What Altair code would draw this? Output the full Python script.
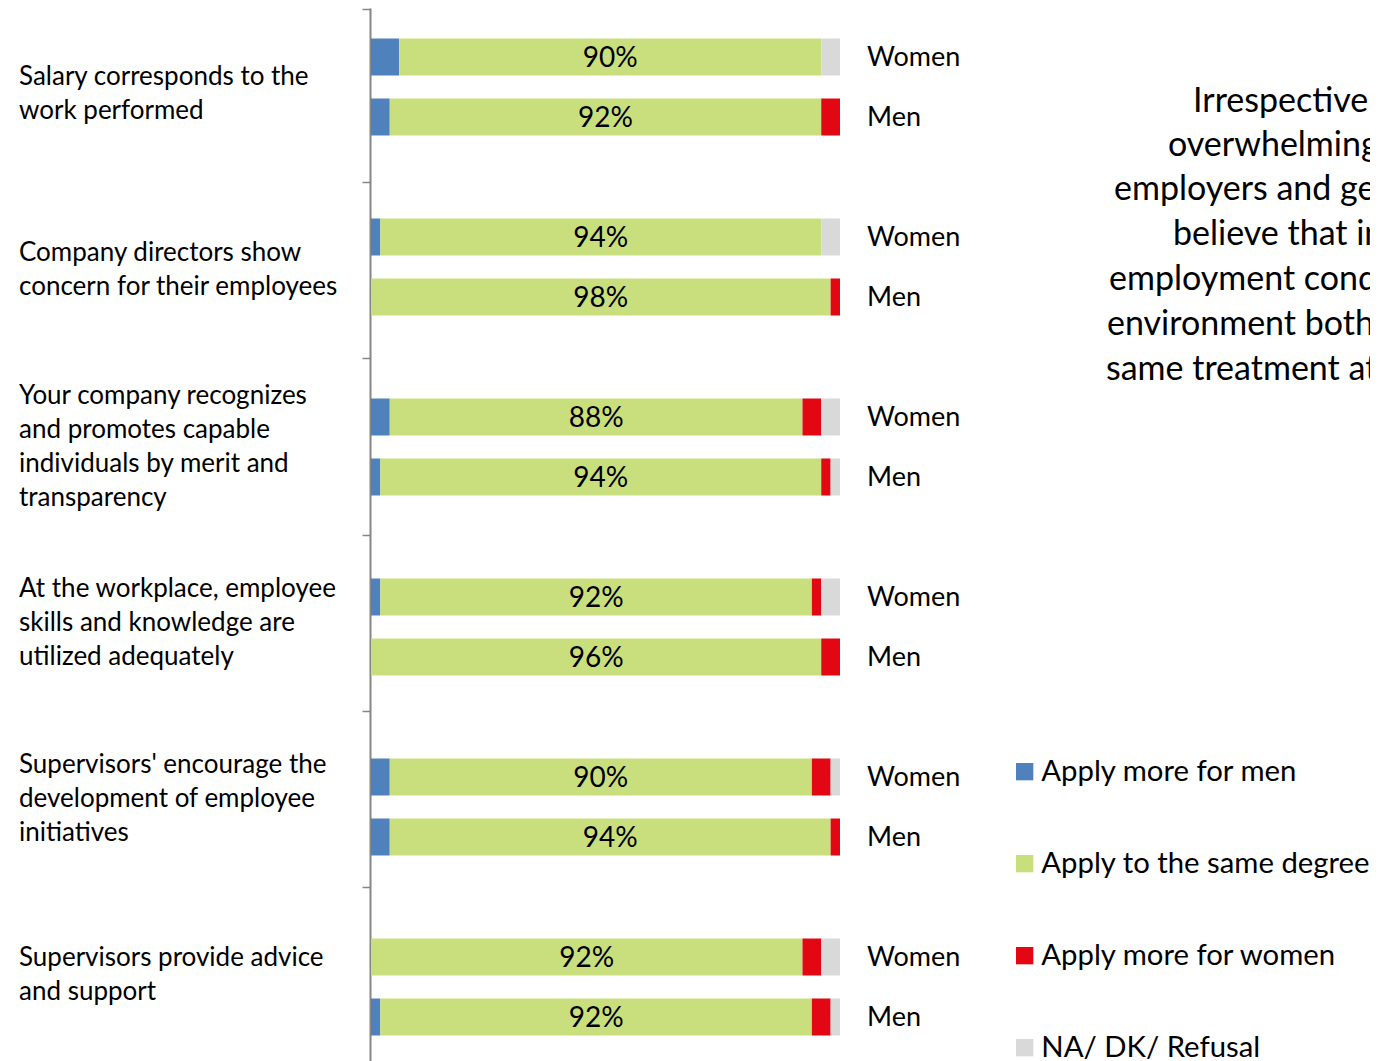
import altair as alt
import pandas as pd

# ---------------- data ----------------
statements = [
    "Salary corresponds to the\nwork performed",
    "Company directors show\nconcern for their employees",
    "Your company recognizes\nand promotes capable\nindividuals by merit and\ntransparency",
    "At the workplace, employee\nskills and knowledge are\nutilized adequately",
    "Supervisors' encourage the\ndevelopment of employee\ninitiatives",
    "Supervisors provide advice\nand support",
]
genders = ["Women", "Men"]
categories = ["Apply more for men", "Apply to the same degree",
              "Apply more for women", "NA/ DK/ Refusal"]
colors = ["#4f81bd", "#c9df7e", "#e30613", "#d9d9d9"]

# [Women, Men] per statement (percent)
more_men = [[6, 4], [2, 0], [4, 2], [2, 0], [4, 4], [0, 2]]
same_degree = [[90, 92], [94, 98], [88, 94], [92, 96], [90, 94], [92, 92]]
more_women = [[0, 4], [0, 2], [4, 2], [2, 4], [4, 2], [4, 4]]
na_dk = [[4, 0], [4, 0], [4, 2], [4, 0], [2, 0], [4, 2]]

note_lines = [
    "Irrespective of gender, the",
    "overwhelming majority of",
    "employers and general employees",
    "believe that in terms of",
    "employment conditions and work",
    "environment both genders receive the",
    "same treatment at work.",
]

# ---------------- layout ----------------
W, H = 1362, 1053
SLOT_PX = 60.0
PX_PER_PCT = 4.69
LINE_PX = 34
y_lo = -49 / SLOT_PX
y_hi = y_lo + H / SLOT_PX
x_lo = -363 / PX_PER_PCT
x_hi = x_lo + W / PX_PER_PCT
half = 37 / SLOT_PX / 2
axis_top = y_lo - 2 / SLOT_PX
tick_step = 176.25 / SLOT_PX

series = [more_men, same_degree, more_women, na_dk]
rows, labels, glabels = [], [], []
for g, st in enumerate(statements):
    for k, gen in enumerate(genders):
        slot = 3 * g + k
        start = 0
        for c, cat in enumerate(categories):
            v = series[c][g][k]
            if v > 0:
                rows.append(dict(slot=slot, y0=slot - half, y1=slot + half,
                                 start=start, end=start + v, cat=cat))
            if c == 1:
                labels.append(dict(slot=slot, mid=start + v / 2, txt=f"{v}%"))
            start += v
        glabels.append(dict(slot=slot, gender=gen))
bars_df = pd.DataFrame(rows)
lab_df = pd.DataFrame(labels)
gen_df = pd.DataFrame(glabels)
# first-line position so that each multi-line block is centred in its axis band
st_df = pd.DataFrame(dict(
    gy=[axis_top + (g + 0.5) * tick_step - s.count("\n") * LINE_PX / 2 / SLOT_PX
        for g, s in enumerate(statements)],
    txt=statements))

xs = alt.Scale(domain=[x_lo, x_hi], nice=False, zero=False)
ys = alt.Scale(domain=[y_lo, y_hi], nice=False, zero=False, reverse=True)
tick_vals = [y_lo + 0.02] + [axis_top + k * tick_step for k in range(1, len(statements))]

bars = alt.Chart(bars_df).mark_rect().encode(
    x=alt.X("start:Q", scale=xs, axis=None),
    x2="end:Q",
    y=alt.Y("y0:Q", scale=ys,
            axis=alt.Axis(values=tick_vals, labels=False, title=None, grid=False,
                          offset=-362, domainColor="#868686", domainWidth=2,
                          tickColor="#868686", tickSize=8, tickWidth=1.5)),
    y2="y1:Q",
    color=alt.Color("cat:N", scale=alt.Scale(domain=categories, range=colors),
                    legend=alt.Legend(orient="none", legendX=1002, legendY=749,
                                      title=None, symbolType="square",
                                      symbolSize=300, symbolStrokeWidth=0,
                                      symbolOpacity=1, labelFontSize=29.3,
                                      labelFont="Lato", labelColor="#000000",
                                      labelOffset=2, rowPadding=62,
                                      labelLimit=500)),
)

pct = alt.Chart(lab_df).mark_text(font="Lato", fontSize=28, color="#000000",
                                  baseline="middle", align="center", dy=2).encode(
    x=alt.X("mid:Q", scale=xs), y=alt.Y("slot:Q", scale=ys), text="txt:N")

gen_txt = alt.Chart(gen_df).mark_text(font="Lato", fontSize=27, color="#000000",
                                      baseline="middle", align="left", dx=27,
                                      dy=1).encode(
    x=alt.datum(100, scale=xs), y=alt.Y("slot:Q", scale=ys), text="gender:N")

st_txt = alt.Chart(st_df).mark_text(font="Lato", fontSize=26, color="#000000",
                                    baseline="middle", align="left",
                                    lineBreak="\n", lineHeight=LINE_PX).encode(
    x=alt.value(11), y=alt.Y("gy:Q", scale=ys), text="txt:N")

note_x = [1185, 1160, 1106, 1165, 1101, 1099, 1098]
note_y = [94, 138, 182, 227, 272, 317, 362]
note_layers = []
for line, px, py in zip(note_lines, note_x, note_y):
    note_layers.append(
        alt.Chart(pd.DataFrame({"t": [line]})).mark_text(
            font="Lato", fontSize=34, color="#000000", align="left",
            baseline="middle").encode(x=alt.value(px), y=alt.value(py), text="t:N"))

chart = alt.layer(bars, pct, gen_txt, st_txt, *note_layers).properties(
    width=W, height=H, autosize="none", padding=0,
).configure(font="Lato").configure_view(stroke=None, strokeWidth=0)

chart.save("out.html", embed_options={"renderer": "svg", "actions": False})
